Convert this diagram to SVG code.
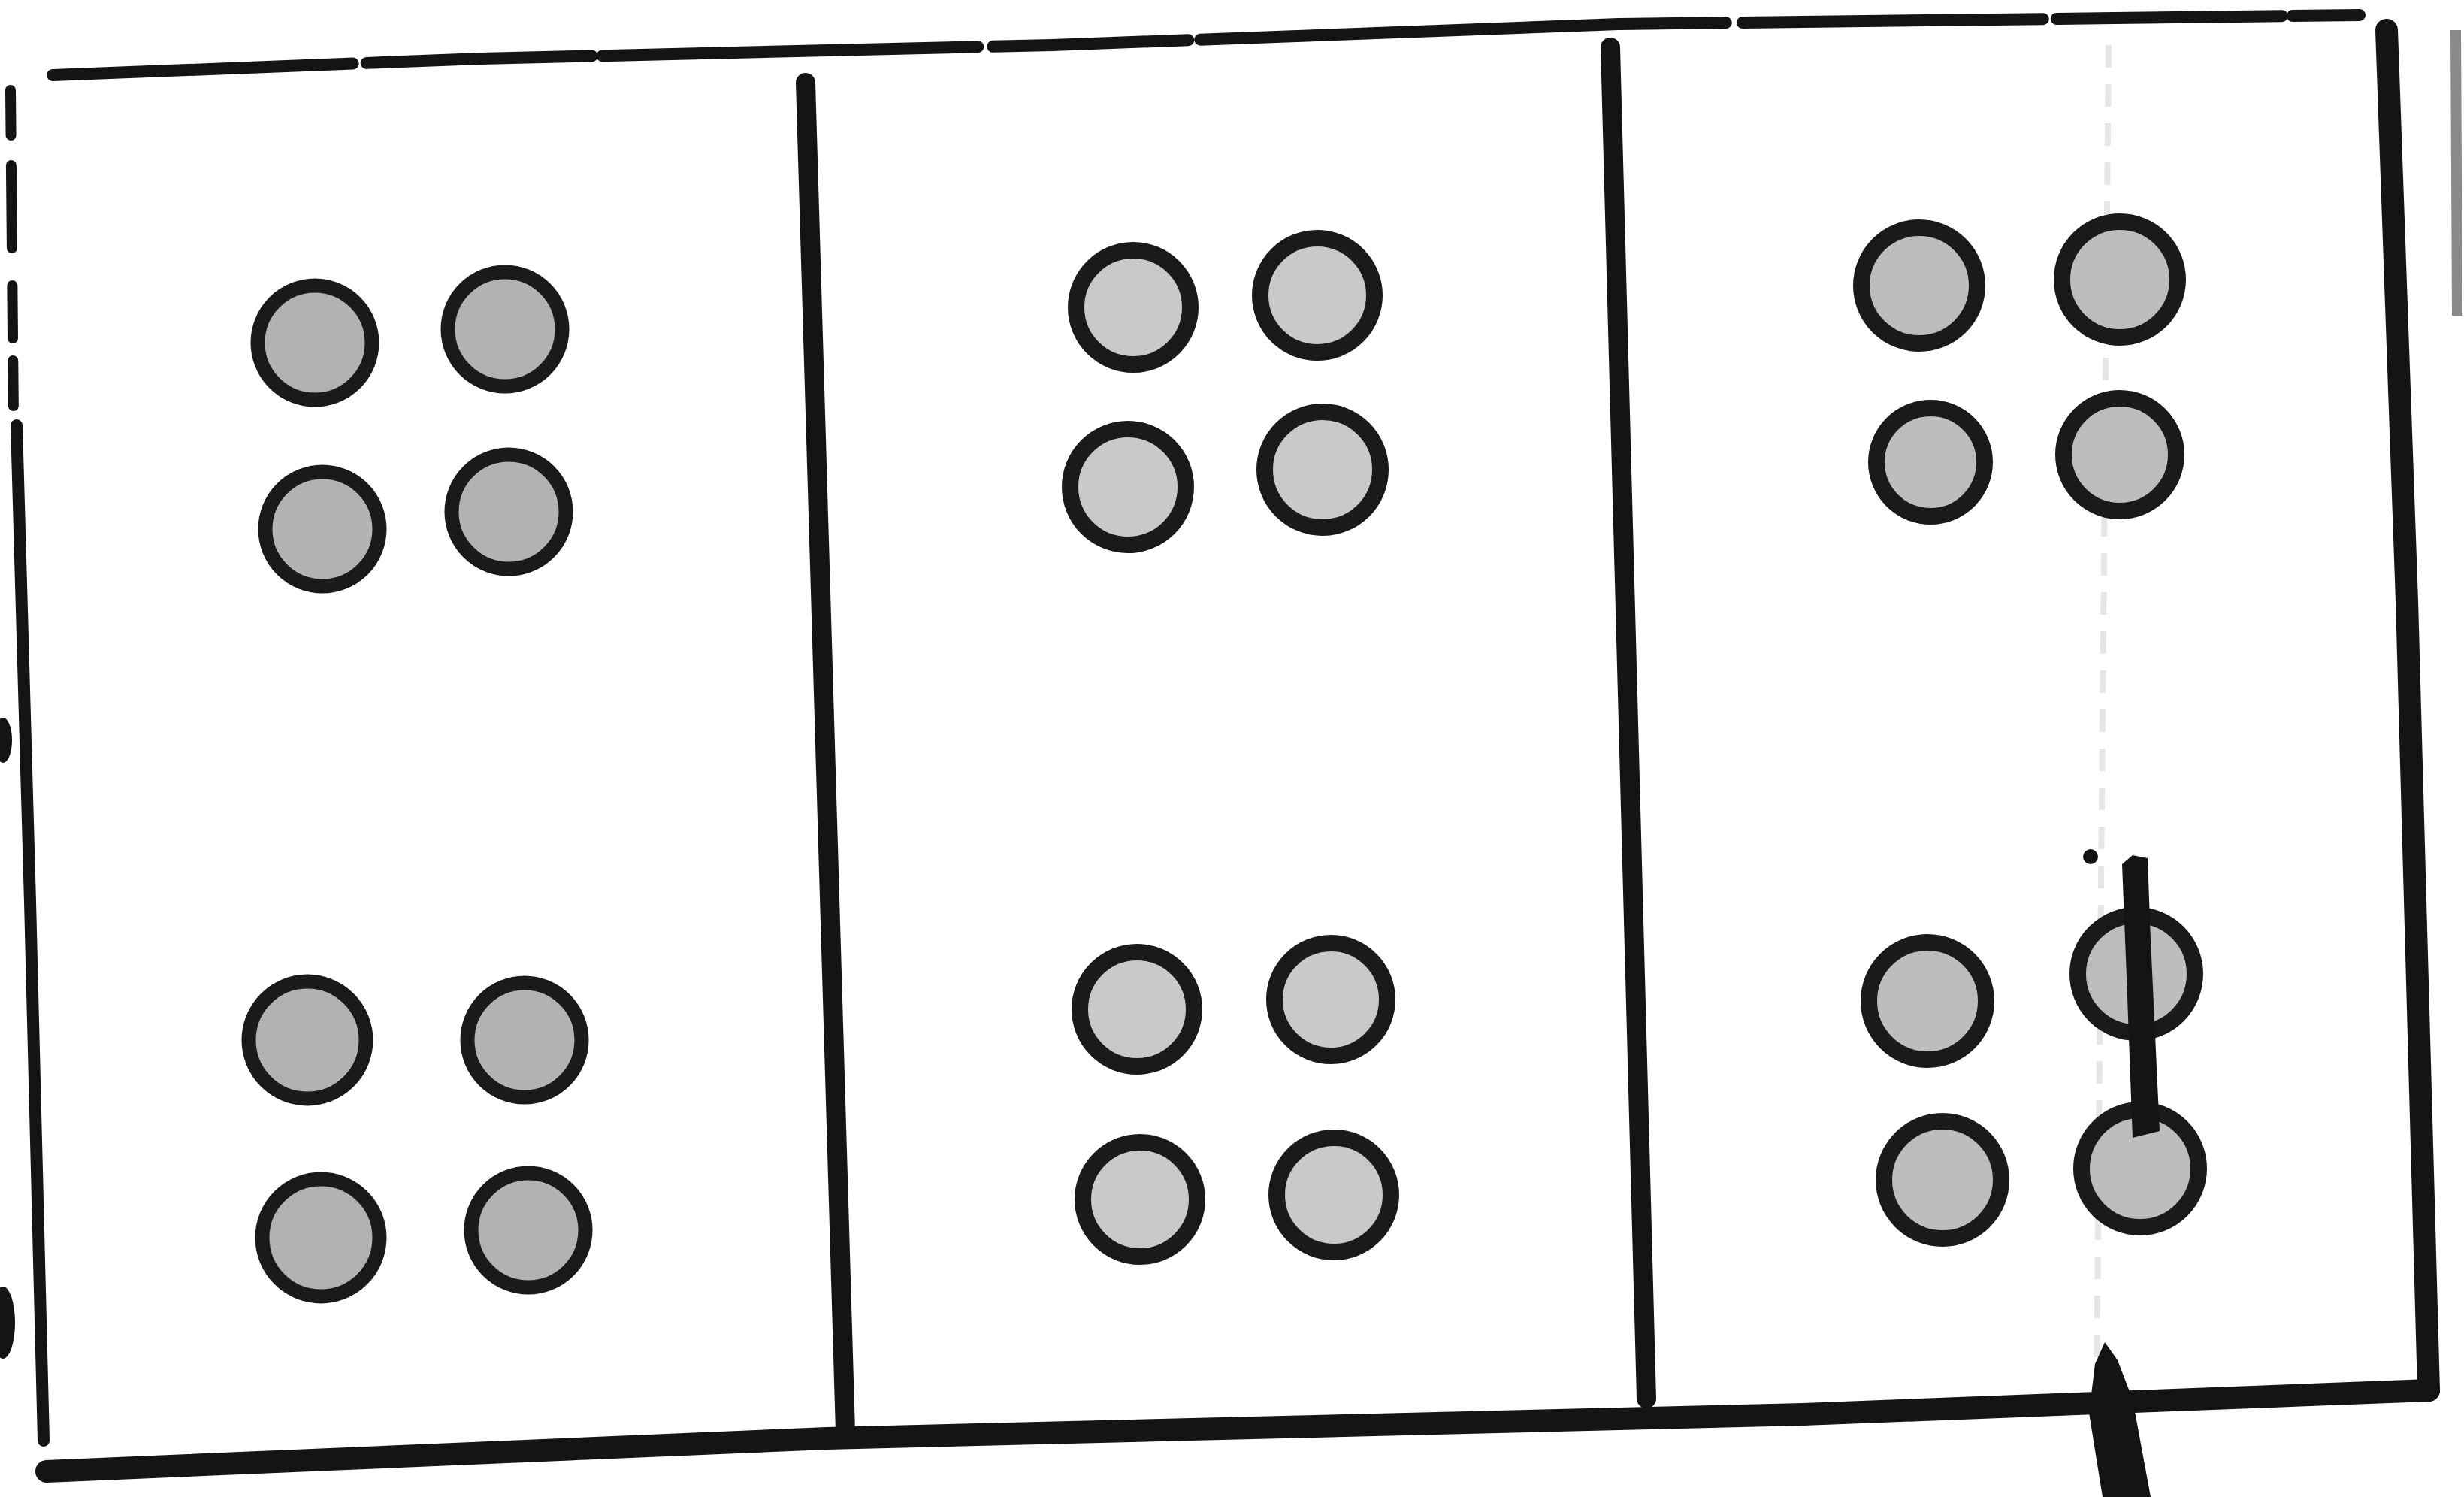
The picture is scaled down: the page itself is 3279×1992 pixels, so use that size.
<svg xmlns="http://www.w3.org/2000/svg" width="3279" height="1992" viewBox="0 0 3279 1992">
<style>
.frame{fill:none;stroke:#141414;stroke-linecap:round;stroke-linejoin:round}
.dot{fill:#bcbcbc;stroke:#1a1a1a;stroke-width:22}
.dot.s1{fill:#b2b2b2;stroke-width:19}
.dot.s2{fill:#c9c9c9}
.dot.s3{fill:#bdbdbd}
.faint{fill:none;stroke:#e6e6e6;stroke-width:8;stroke-dasharray:30 22}
</style>
<rect width="3279" height="1992" fill="#ffffff"/>
<g id="scan-marks">
<line class="faint" x1="2806" y1="60" x2="2790" y2="1850"/>
<line x1="3268" y1="40" x2="3270" y2="420" stroke="#8a8a8a" stroke-width="14"/>
<ellipse cx="4" cy="985" rx="12" ry="30" fill="#141414"/>
<ellipse cx="4" cy="1760" rx="16" ry="48" fill="#141414"/>
</g>
<g id="frame">
<path class="frame" stroke-width="16" stroke-dasharray="400 18 300 14 500 20 260 16 700 22" d="M 70 100 L 640 78 L 1400 60 L 2154 32 L 3140 20"/>
<path class="frame" stroke-width="14" stroke-dasharray="60 40 110 50 70 30" d="M 14 120 L 18 560"/>
<path class="frame" stroke-width="16" d="M 22 566 L 40 1200 L 58 1917"/>
<path class="frame" stroke-width="30" d="M 62 1958 L 1100 1914 L 2400 1882 L 3232 1850"/>
<path class="frame" stroke-width="30" d="M 3176 40 L 3203 800 L 3232 1850"/>
<path class="frame" stroke-width="26" d="M 1072 110 L 1125 1905"/>
<path class="frame" stroke-width="26" d="M 2143 63 L 2191 1861"/>
</g>
<g id="section-1">
<circle class="dot s1" cx="419" cy="456" r="76"/>
<circle class="dot s1" cx="672" cy="438" r="76"/>
<circle class="dot s1" cx="429" cy="704" r="76"/>
<circle class="dot s1" cx="677" cy="681" r="76"/>
<circle class="dot s1" cx="409" cy="1384" r="78"/>
<circle class="dot s1" cx="698" cy="1384" r="76"/>
<circle class="dot s1" cx="427" cy="1647" r="78"/>
<circle class="dot s1" cx="703" cy="1637" r="76"/>
</g>
<g id="section-2">
<circle class="dot s2" cx="1508" cy="409" r="76"/>
<circle class="dot s2" cx="1753" cy="393" r="76"/>
<circle class="dot s2" cx="1501" cy="648" r="77"/>
<circle class="dot s2" cx="1760" cy="625" r="77"/>
<circle class="dot s2" cx="1513" cy="1343" r="76"/>
<circle class="dot s2" cx="1771" cy="1330" r="75"/>
<circle class="dot s2" cx="1517" cy="1596" r="76"/>
<circle class="dot s2" cx="1775" cy="1590" r="76"/>
</g>
<g id="section-3">
<circle class="dot s3" cx="2554" cy="380" r="77"/>
<circle class="dot s3" cx="2821" cy="372" r="77"/>
<circle class="dot s3" cx="2569" cy="615" r="72"/>
<circle class="dot s3" cx="2821" cy="605" r="75"/>
<circle class="dot s3" cx="2565" cy="1332" r="78"/>
<circle class="dot s3" cx="2843" cy="1296" r="78"/>
<circle class="dot s3" cx="2585" cy="1570" r="78"/>
<circle class="dot s3" cx="2848" cy="1555" r="78"/>
</g>
<g id="connectors">
<path d="M 2824 1150 L 2838 1138 L 2858 1142 L 2862 1250 L 2874 1505 L 2838 1514 L 2830 1300 Z" fill="#141414"/>
<circle cx="2782" cy="1140" r="10" fill="#141414"/>
<path d="M 2801 1786 L 2818 1810 L 2838 1862 L 2862 1992 L 2798 1992 L 2780 1880 L 2788 1815 Z" fill="#141414"/>
</g>
</svg>
